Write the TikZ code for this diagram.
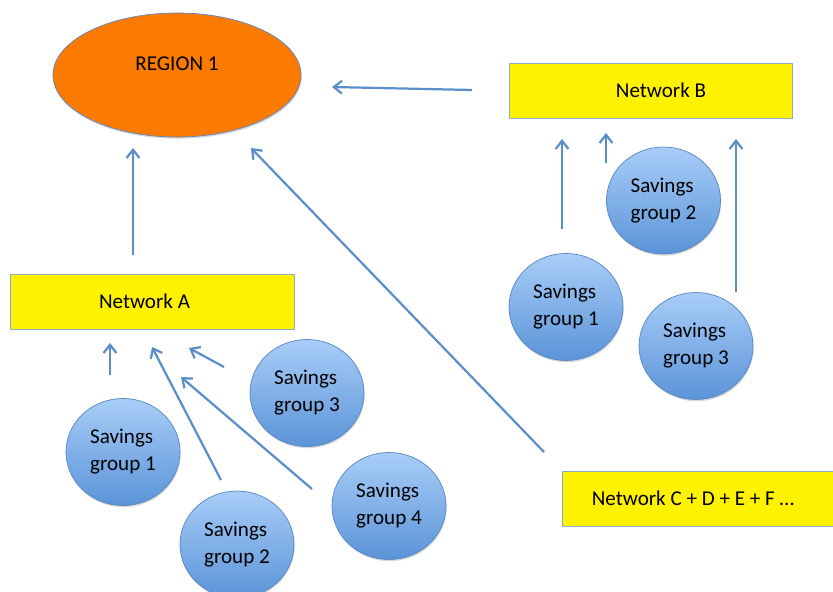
\documentclass[tikz,border=0pt]{standalone}
\usepackage{fontspec}
\setmainfont{Carlito}
\usetikzlibrary{shapes.geometric,arrows.meta,shadows}

\definecolor{linkblue}{HTML}{5B8FC9}
\definecolor{rimblue}{HTML}{5585C5}
\definecolor{topblue}{HTML}{A9CDF8}
\definecolor{botblue}{HTML}{5A94D8}
\definecolor{regionorange}{HTML}{FB7B00}
\definecolor{boxline}{HTML}{8DAACB}

\tikzset{
  link/.style={line width=1.9pt, linkblue, -{Straight Barb[length=7pt,width=11pt]}},
  netbox/.style={rectangle, draw=boxline, line width=0.8pt, fill=yellow,
    minimum width=8.5cm, minimum height=1.65cm, inner sep=0pt,
    drop shadow={shadow xshift=0.6pt, shadow yshift=-1.2pt, opacity=0.25}},
  saving/.style={ellipse, draw=rimblue, line width=0.6pt, top color=topblue,
    bottom color=botblue, minimum width=3.42cm, minimum height=3.21cm,
    inner sep=0pt, align=left,
    drop shadow={shadow xshift=0.6pt, shadow yshift=-1.5pt, opacity=0.3}},
  regionblob/.style={ellipse, draw=rimblue, line width=0.6pt, fill=regionorange,
    minimum width=7.44cm, minimum height=3.72cm, inner sep=0pt,
    drop shadow={shadow xshift=0.6pt, shadow yshift=-1.5pt, opacity=0.3}}
}

\begin{document}
\begin{tikzpicture}[x=0.03cm, y=-0.03cm, font=\fontsize{18}{23}\selectfont]
  \useasboundingbox (0,0) rectangle (833,592);

  % region and networks
  \node[regionblob, label={[name=regiontxt, yshift=0.35cm]center:REGION 1}] (region) at (177,75) {};
  \node[netbox, label={[name=netAtxt, xshift=-0.24cm]center:Network A}] (netA) at (152.5,301.5) {};
  \node[netbox, label={[name=netBtxt, xshift=0.3cm]center:Network B}] (netB) at (651,90.5) {};
  \node[netbox, minimum width=9cm, label={[name=netCtxt, xshift=-0.57cm]center:Network C + D + E + F \dots}] (netC) at (712,498.5) {};

  % savings groups of network B
  \node[saving] (sgB1) at (566,307) {Savings\\group 1};
  \node[saving] (sgB2) at (663.5,200.5) {Savings\\group 2};
  \node[saving] (sgB3) at (696,346) {Savings\\group 3};

  % savings groups of network A
  \node[saving] (sgA1) at (123,452) {Savings\\group 1};
  \node[saving] (sgA2) at (237,544.5) {Savings\\group 2};
  \node[saving] (sgA3) at (307,393) {Savings\\group 3};
  \node[saving] (sgA4) at (389,506) {Savings\\group 4};

  % arrow ends
  \coordinate (netAup) at (133,255);   \coordinate (regionA) at (133,148);
  \coordinate (netBleft) at (472,90);  \coordinate (regionB) at (332,87);
  \coordinate (netCup) at (544,452);   \coordinate (regionC) at (251,148);
  \coordinate (sgB1up) at (562,229);   \coordinate (netB1) at (562,139);
  \coordinate (sgB2up) at (606,163);   \coordinate (netB2) at (606,133);
  \coordinate (sgB3up) at (736,292);   \coordinate (netB3) at (736,139);
  \coordinate (sgA1up) at (110,375);   \coordinate (netA1) at (110,343);
  \coordinate (sgA2up) at (221,480);   \coordinate (netA2) at (152,347);
  \coordinate (sgA3up) at (224,367);   \coordinate (netA3) at (189,348);
  \coordinate (sgA4up) at (312,489);   \coordinate (netA4) at (181,377);

  \foreach \from/\to in {netAup/regionA, netBleft/regionB, netCup/regionC,
      sgB1up/netB1, sgB2up/netB2, sgB3up/netB3,
      sgA1up/netA1, sgA2up/netA2, sgA3up/netA3, sgA4up/netA4}
    \draw[link] (\from) -- (\to);
\end{tikzpicture}
\end{document}
